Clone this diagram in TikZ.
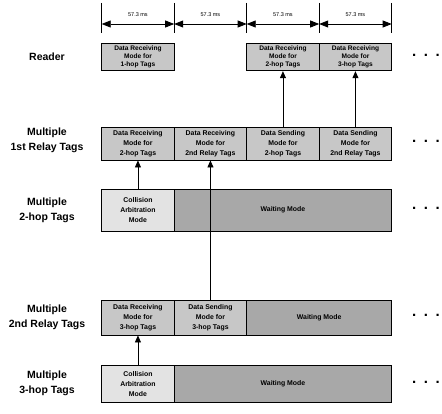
\documentclass[tikz,border=0pt]{standalone}
\usepackage{fontspec}
\setmainfont{Liberation Sans}
\usetikzlibrary{arrows.meta}

\definecolor{collfill}{rgb}{0.89,0.89,0.89}
\definecolor{datafill}{rgb}{0.78,0.78,0.78}
\definecolor{waitfill}{rgb}{0.66,0.66,0.66}

\tikzset{
  slotbox/.style={draw, line width=0.9pt, minimum width=72.5pt, inner sep=0pt, align=center,
    font=\fontsize{6.9}{10}\selectfont\bfseries},
  tightbox/.style={font=\fontsize{6.6}{7.9}\selectfont\bfseries},
  databox/.style={slotbox, fill=datafill},
  collbox/.style={slotbox, fill=collfill},
  waitbox/.style={slotbox, fill=waitfill},
  rowlabel/.style={align=center, font=\fontsize{10.5}{15}\selectfont\bfseries},
  moredots/.style={font=\fontsize{15}{15}\selectfont\bfseries},
  hoparrow/.style={line width=0.8pt, -{Triangle[length=7pt,width=6pt]}},
  spanarrow/.style={line width=0.8pt, {Triangle[length=9pt,width=7pt]}-{Triangle[length=9pt,width=7pt]}},
}

\begin{document}
\begin{tikzpicture}[x=1pt,y=1pt,yscale=-1,xscale=1]
\useasboundingbox (0,0) rectangle (442,414);

% time slots
\foreach \i in {0,...,4} {
  \coordinate (t\i) at (101.7+72.5*\i,3);
  \coordinate (m\i) at (101.7+72.5*\i,24);
  \coordinate (b\i) at (101.7+72.5*\i,33);
  \draw [line width=0.7pt] (t\i) -- (b\i);
}
\foreach \i/\j in {0/1,1/2,2/3,3/4}
  \draw [spanarrow] (m\i) -- node [above=4pt, font=\fontsize{5.5}{6}\selectfont] (ms\i) {57.3 ms} (m\j);

% Reader
\node [rowlabel] (lrd) at (47,57) {Reader};
\node [databox, tightbox, minimum height=27.7pt] (rd1) at (137.95,56.9) {Data Receiving\\Mode for\\1-hop Tags};
\node [databox, tightbox, minimum height=27.7pt] (rd2) at (282.95,56.9) {Data Receiving\\Mode for\\2-hop Tags};
\node [databox, tightbox, minimum height=27.7pt] (rd3) at (355.45,56.9) {Data Receiving\\Mode for\\3-hop Tags};

% Multiple 1st Relay Tags
\node [rowlabel] (lra) at (47,140) {Multiple\\1st Relay Tags};
\node [databox, minimum height=33pt] (ra1) at (137.95,143.5) {Data Receiving\\Mode for\\2-hop Tags};
\node [databox, minimum height=33pt] (ra2) at (210.45,143.5) {Data Receiving\\Mode for\\2nd Relay Tags};
\node [databox, minimum height=33pt] (ra3) at (282.95,143.5) {Data Sending\\Mode for\\2-hop Tags};
\node [databox, minimum height=33pt] (ra4) at (355.45,143.5) {Data Sending\\Mode for\\2nd Relay Tags};

% Multiple 2-hop Tags
\node [rowlabel] (lhb) at (47,210) {Multiple\\2-hop Tags};
\node [collbox, minimum height=42pt] (hb1) at (137.95,210) {Collision\\Arbitration\\Mode};
\node [waitbox, minimum height=42pt, minimum width=217.5pt] (hb2) at (282.95,210) {Waiting Mode};

% Multiple 2nd Relay Tags
\node [rowlabel] (lrb) at (47,317) {Multiple\\2nd Relay Tags};
\node [databox, minimum height=35pt] (rb1) at (137.95,317.5) {Data Receiving\\Mode for\\3-hop Tags};
\node [databox, minimum height=35pt] (rb2) at (210.45,317.5) {Data Sending\\Mode for\\3-hop Tags};
\node [waitbox, minimum height=35pt, minimum width=145pt] (rb3) at (319.2,317.5) {Waiting Mode};

% Multiple 3-hop Tags
\node [rowlabel] (lhc) at (47,383) {Multiple\\3-hop Tags};
\node [collbox, minimum height=37.5pt] (hc1) at (137.95,384) {Collision\\Arbitration\\Mode};
\node [waitbox, minimum height=37.5pt, minimum width=217.5pt] (hc2) at (282.95,384) {Waiting Mode};

% more slots
\foreach \r/\y in {rd/55,ra/141.5,hb/208,rb/315.5,hc/382}
  \node [moredots] (dots\r) at (426,\y) {.\hspace{7.6pt}.\hspace{7.6pt}.};

% hops
\draw [hoparrow] (ra3.north) -- (rd2.south);
\draw [hoparrow] (ra4.north) -- (rd3.south);
\draw [hoparrow] (hb1.north) -- (ra1.south);
\draw [hoparrow] (rb2.north) -- (ra2.south);
\draw [hoparrow] (hc1.north) -- (rb1.south);

\end{tikzpicture}
\end{document}
